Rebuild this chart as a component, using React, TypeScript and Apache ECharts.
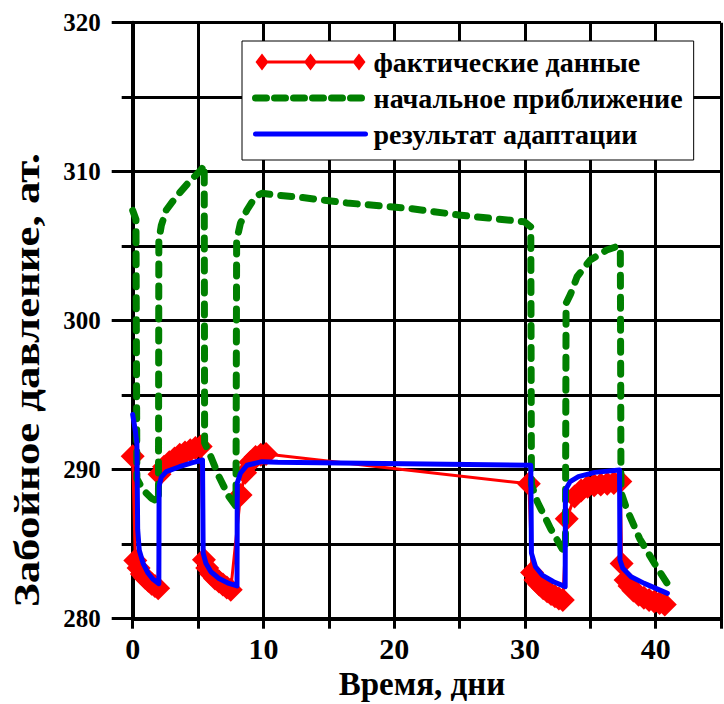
import React, { useEffect, useRef } from 'react';
import * as echarts from 'echarts';

const FONT = "'Liberation Serif', 'Times New Roman', serif";

const seriesNames = ['фактические данные', 'начальное приближение', 'результат адаптации'];
const xAxisTitle = 'Время, дни';
const yAxisTitle = 'Забойное давление, ат.';
const xTickLabels = ['0', '10', '20', '30', '40'];
const yTickLabels = ['280', '290', '300', '310', '320'];

// фактические данные
const factT = [0, 0.2, 0.45, 0.7, 0.95, 1.2, 1.45, 1.7, 1.95,
  2.05, 2.4, 2.8, 3.2, 3.6, 4.0, 4.4, 4.8, 5.2,
  5.45, 5.7, 6.0, 6.3, 6.6, 6.9, 7.2, 7.5,
  8.25, 8.6, 9.0, 9.4, 9.8, 10.2,
  30.3, 30.55, 30.8, 31.1, 31.4, 31.7, 32.0, 32.3, 32.6, 32.9,
  33.2, 33.8, 34.3, 34.8, 35.3, 35.8, 36.3, 36.8, 37.3,
  37.4, 37.7, 38.0, 38.3, 38.7, 39.1, 39.5, 39.9, 40.3, 40.7];
const factP = [290.9, 283.9, 283.4, 283.0, 282.75, 282.55, 282.35, 282.2, 282.05,
  289.7, 290.2, 290.5, 290.75, 291.0, 291.15, 291.3, 291.45, 291.55,
  283.95, 283.4, 283.0, 282.7, 282.5, 282.3, 282.1, 281.95,
  288.3, 289.8, 290.5, 290.85, 291.0, 291.05,
  289.05, 283.1, 282.6, 282.3, 282.05, 281.85, 281.65, 281.5, 281.35, 281.25,
  286.7, 288.2, 288.6, 288.85, 288.95, 289.0, 289.05, 289.1, 289.2,
  283.7, 282.6, 282.2, 281.9, 281.6, 281.4, 281.25, 281.15, 281.05, 280.95];

// начальное приближение
const initT = [0, 0.25, 0.32, 0.8, 1.44, 1.97, 2.0, 2.19, 2.57, 3.33, 4.33, 5.22, 5.47,
  5.5, 5.98, 6.6, 7.36, 7.9, 7.95, 8.24, 8.74, 9.38, 9.88, 10.89, 12.65, 16.4, 21.1,
  24.9, 29.96, 30.45, 30.5, 30.96, 31.97, 32.85, 33.1, 33.15, 33.5, 33.99, 34.99,
  36.26, 37.1, 37.3, 37.35, 37.77, 38.78, 40.0, 40.9];
const initP = [307.4, 306.8, 289.4, 288.64, 288.08, 287.85, 305.4, 306.4, 307.43, 308.32, 309.33, 310.11, 310.45,
  291.8, 290.87, 289.53, 288.19, 287.55, 305.4, 306.54, 307.43, 308.32, 308.55, 308.44, 308.3, 307.9, 307.54,
  307.1, 306.64, 306.3, 289.0, 287.83, 286.04, 284.7, 284.5, 301.17, 301.8, 302.95, 304.07,
  304.74, 305.0, 304.8, 288.5, 287.4, 285.37, 283.58, 282.35];

// результат адаптации
const adaptT = [0, 0.2, 0.32, 0.38, 0.5, 0.8, 1.18, 1.56, 2.0, 2.02, 2.19, 2.57, 3.58, 4.58, 5.34,
  5.39, 5.6, 5.98, 6.6, 7.36, 7.98, 8.0, 8.24, 8.74, 9.88, 11.1, 30.45,
  30.5, 30.81, 31.32, 32.19, 33.08, 33.1, 33.46, 34.09, 35.35, 37.24,
  37.27, 37.49, 38.12, 39.13, 40.9];
const adaptP = [293.7, 292.6, 291.8, 286.0, 284.6, 283.7, 283.05, 282.64, 282.35, 288.9, 289.5, 289.87, 290.2, 290.47, 290.65,
  284.4, 283.72, 283.15, 282.7, 282.37, 282.2, 289.1, 289.76, 290.3, 290.54, 290.5, 290.3,
  284.4, 283.49, 282.93, 282.48, 282.15, 288.64, 289.2, 289.53, 289.82, 289.98,
  283.94, 283.38, 282.82, 282.37, 281.7];

const pairs = (t: number[], p: number[]) => t.map((v, i) => [v, p[i]]);

const RED_ICON = 'path://M0,8.5L6.5,0L13,8.5L6.5,17ZM48.5,8.5L55,0L61.5,8.5L55,17ZM97,8.5L103.5,0L110,8.5L103.5,17ZM6.5,7L103.5,7L103.5,10L6.5,10Z';

export default function App() {
  const ref = useRef<HTMLDivElement>(null);
  useEffect(() => {
    if (!ref.current) return;
    const chart = echarts.init(ref.current, null, { renderer: 'svg' });
    const labelStyle = { fontFamily: FONT, fontWeight: 'bold' as const, color: '#000' };
    chart.setOption({
      animation: false,
      backgroundColor: '#fff',
      grid: { left: 132.7, top: 22.7, right: -3.3, bottom: 85.3, containLabel: false },
      xAxis: {
        type: 'value', min: 0, max: 45, interval: 5,
        axisLine: { onZero: false, lineStyle: { color: '#000', width: 4 } },
        axisTick: { show: true, length: 10, lineStyle: { color: '#000', width: 3 } },
        axisLabel: {
          ...labelStyle, fontSize: 30, margin: 15,
          formatter: (v: number) => (xTickLabels.includes(String(v)) ? String(v) : ''),
        },
        splitLine: { show: true, lineStyle: { color: '#000', width: 3 } },
      },
      yAxis: {
        type: 'value', min: 280, max: 320, interval: 10,
        axisLine: { show: true, onZero: false, lineStyle: { color: '#000', width: 4 } },
        axisTick: { show: true, length: 21, lineStyle: { color: '#000', width: 3 } },
        minorTick: { show: true, splitNumber: 2, length: 11, lineStyle: { color: '#000', width: 3 } },
        splitLine: { show: true, lineStyle: { color: '#000', width: 3 } },
        minorSplitLine: { show: true, lineStyle: { color: '#000', width: 3 } },
        axisLabel: {
          ...labelStyle, fontSize: 25, margin: 32,
          formatter: (v: number) => (yTickLabels.includes(String(v)) ? String(v) : ''),
        },
      },
      legend: {
        orient: 'vertical', left: 242, top: 41,
        itemWidth: 110, itemHeight: 17, itemGap: 8,
        padding: [7, 11, 12, 10],
        backgroundColor: '#fff', borderColor: '#000', borderWidth: 1,
        textStyle: { ...labelStyle, fontSize: 28, padding: [0, 0, 0, 3] },
        data: [
          { name: seriesNames[0], icon: RED_ICON },
          {
            name: seriesNames[1], itemStyle: { opacity: 0 },
            lineStyle: { width: 7, type: [11, 8], cap: 'round', color: '#008000' },
          },
          {
            name: seriesNames[2], itemStyle: { opacity: 0 },
            lineStyle: { width: 5, cap: 'round', color: '#0000ff' },
          },
        ],
      },
      graphic: [
        {
          type: 'text', x: 27, y: 380, rotation: Math.PI / 2, scaleX: 1.28,
          style: { text: yAxisTitle, font: `bold 35px ${FONT}`, fill: '#000', align: 'center', verticalAlign: 'middle' },
        },
        {
          type: 'text', x: 422, y: 684,
          style: { text: xAxisTitle, font: `bold 33px ${FONT}`, fill: '#000', align: 'center', verticalAlign: 'middle' },
        },
      ],
      series: [
        {
          name: seriesNames[0], type: 'line', data: pairs(factT, factP),
          symbol: 'diamond', symbolSize: [24, 24],
          itemStyle: { color: '#ff0000' }, lineStyle: { color: '#ff0000', width: 3 }, z: 2,
        },
        {
          name: seriesNames[1], type: 'line', data: pairs(initT, initP), symbol: 'none',
          itemStyle: { color: '#008000' },
          lineStyle: { color: '#008000', width: 7, type: [11, 11], cap: 'round', join: 'round' }, z: 3,
        },
        {
          name: seriesNames[2], type: 'line', data: pairs(adaptT, adaptP), symbol: 'none',
          itemStyle: { color: '#0000ff' },
          lineStyle: { color: '#0000ff', width: 5, cap: 'round', join: 'round' }, z: 4,
        },
      ],
    });
    return () => chart.dispose();
  }, []);
  return <div ref={ref} style={{ position: 'absolute', left: 0, top: 0, width: 724, height: 704 }} />;
}
